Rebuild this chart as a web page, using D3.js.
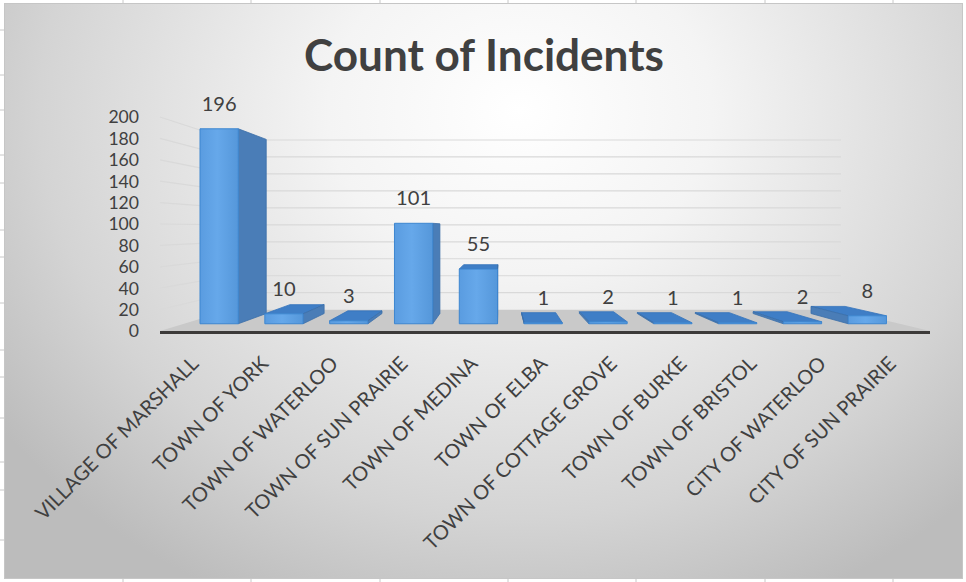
<!DOCTYPE html>
<html><head><meta charset="utf-8">
<script src="https://cdn.jsdelivr.net/npm/d3@7"></script>
<style>html,body{margin:0;padding:0;background:#fff;overflow:hidden}</style>
</head><body>
<svg id="c" width="966" height="582"></svg>
<script>
// ---- data ----
const categories = ["VILLAGE OF MARSHALL","TOWN OF YORK","TOWN OF WATERLOO","TOWN OF SUN PRAIRIE","TOWN OF MEDINA","TOWN OF ELBA","TOWN OF COTTAGE GROVE","TOWN OF BURKE","TOWN OF BRISTOL","CITY OF WATERLOO","CITY OF SUN PRAIRIE"];
const counts = [196,10,3,101,55,1,2,1,1,2,8];
const yTicks = [0,20,40,60,80,100,120,140,160,180,200];
const chartTitle = "Count of Incidents";

// ---- setup ----
const W = 966, H = 582;
const FONT = "Lato, 'Open Sans', sans-serif";
const TXT = "#404040";
const svg = d3.select("#c");
const defs = svg.append("defs");

// perspective: vanishing point and back-plane scale
const VX = 500, VY = 228, KB = 0.793;
const D0 = 0.34, D1 = 0.82;           // bar depth range
const FL = 160, FR = 930;             // floor front edge extent

const x = d3.scaleBand().domain(categories).range([163, 930]).paddingInner(0.41).paddingOuter(0.205);
const y = d3.scaleLinear().domain([0, 200]).range([331, 117]);
function P(xf, v, d) { const k = 1 - (1 - KB) * d; return [VX + k * (xf - VX), VY + k * (y(v) - VY)]; }
const pts = a => a.map(p => p[0].toFixed(2) + "," + p[1].toFixed(2)).join(" ");

function fit(text, weight, target) {
  const t = svg.append("text").attr("font-family", FONT).attr("font-weight", weight).attr("font-size", 100).text(text);
  const w = t.node().getComputedTextLength(); t.remove();
  return 100 * target / w;
}

// ---- background ----
const rg = defs.append("radialGradient").attr("id", "bg").attr("gradientUnits", "userSpaceOnUse")
  .attr("cx", 520).attr("cy", 110).attr("r", 640)
  .attr("gradientTransform", "translate(520,110) scale(1,0.85) translate(-520,-110)");
rg.append("stop").attr("offset", 0).attr("stop-color", "#ffffff");
rg.append("stop").attr("offset", 0.3).attr("stop-color", "#f4f4f4");
rg.append("stop").attr("offset", 0.75).attr("stop-color", "#d4d4d4");
rg.append("stop").attr("offset", 1).attr("stop-color", "#bcbcbc");

svg.append("rect").attr("x", 0).attr("y", 0).attr("width", W).attr("height", H).attr("fill", "#ffffff");
svg.append("rect").attr("x", 4.5).attr("y", 3.5).attr("width", 958).attr("height", 575)
  .attr("fill", "url(#bg)").attr("stroke", "#c6c6c6").attr("stroke-width", 1);

// spreadsheet cell marks around the frame
[30,75,110,155,183,230,257,303,350,377,418,462,490,540].forEach(v =>
  svg.append("line").attr("x1", 0).attr("x2", 4).attr("y1", v).attr("y2", v).attr("stroke", "#c8c8c8"));
[123,251,380,508,636,765,893].forEach(v => {
  svg.append("line").attr("x1", v).attr("x2", v).attr("y1", 0).attr("y2", 3).attr("stroke", "#c8c8c8");
  svg.append("line").attr("x1", v).attr("x2", v).attr("y1", 579).attr("y2", 582).attr("stroke", "#c8c8c8");
});

// ---- title ----
const tSize = fit(chartTitle, 700, 360);
svg.append("text").attr("x", 484).attr("y", 71).attr("text-anchor", "middle")
  .attr("font-family", FONT).attr("font-weight", 700).attr("font-size", tSize).attr("fill", TXT).text(chartTitle);

// ---- floor ----
svg.append("polygon").attr("points", pts([P(FL,0,0), P(FR,0,0), P(FR,0,1), P(FL,0,1)]))
  .attr("fill", "#c9c9c9");

// ---- gridlines: side wall and back wall ----
const grid = svg.append("g").attr("stroke", "#d9d9d9").attr("stroke-width", 1.2);
yTicks.filter(v => v > 0).forEach(v => {
  const a = P(FL, v, 0), b = P(FL, v, 1), c = P(FR, v, 1);
  grid.append("line").attr("x1", a[0]).attr("y1", a[1]).attr("x2", b[0]).attr("y2", b[1]);
  grid.append("line").attr("x1", b[0]).attr("y1", b[1]).attr("x2", c[0]).attr("y2", c[1]);
});

// ---- y-axis labels ----
const lSize = fit("200", 400, 35);
const tickSize = Math.min(lSize, 17.6);
svg.append("g").selectAll("text").data(yTicks).join("text")
  .attr("x", 139).attr("y", d => y(d)).attr("dy", "0.36em").attr("text-anchor", "end")
  .attr("font-family", FONT).attr("font-size", tickSize).attr("fill", TXT).text(d => d);

// ---- bars ----
const fg = defs.append("linearGradient").attr("id", "front").attr("x1", 0).attr("x2", 1).attr("y1", 0).attr("y2", 0);
fg.append("stop").attr("offset", 0).attr("stop-color", "#5a9ce0");
fg.append("stop").attr("offset", 0.45).attr("stop-color", "#66a8ea");
fg.append("stop").attr("offset", 1).attr("stop-color", "#5597da");

const bars = svg.append("g");
categories.forEach((c, i) => {
  const v = counts[i];
  const x0 = x(c), x1 = x0 + x.bandwidth();
  const g = bars.append("g").attr("stroke-linejoin", "round");
  // top face
  if (y(v) > VY) {
    g.append("polygon").attr("points", pts([P(x0,v,D0), P(x1,v,D0), P(x1,v,D1), P(x0,v,D1)]))
      .attr("fill", "#3f7ec6").attr("stroke", "#3574bb").attr("stroke-width", 0.8);
  }
  // side face
  if (x1 < VX) {
    g.append("polygon").attr("points", pts([P(x1,v,D0), P(x1,v,D1), P(x1,0,D1), P(x1,0,D0)]))
      .attr("fill", "#4a7db7").attr("stroke", "#3b6ea8").attr("stroke-width", 0.8);
  } else if (x0 > VX) {
    g.append("polygon").attr("points", pts([P(x0,v,D0), P(x0,v,D1), P(x0,0,D1), P(x0,0,D0)]))
      .attr("fill", "#4a7db7").attr("stroke", "#3b6ea8").attr("stroke-width", 0.8);
  }
  // front face
  g.append("polygon").attr("points", pts([P(x0,v,D0), P(x1,v,D0), P(x1,0,D0), P(x0,0,D0)]))
    .attr("fill", "url(#front)").attr("stroke", "#3d86d0").attr("stroke-width", 1);
  // data label
  const fa = P(x0, v, D0), fb = P(x1, v, D0);
  svg.append("text").attr("x", (fa[0] + fb[0]) / 2).attr("y", fa[1] - 18).attr("text-anchor", "middle")
    .attr("font-family", FONT).attr("font-size", lSize).attr("fill", TXT).text(v);
});

// floor front edge
const fe0 = P(FL, 0, 0), fe1 = P(FR, 0, 0);
svg.append("rect").attr("x", fe0[0]).attr("y", fe0[1]).attr("width", fe1[0] - fe0[0]).attr("height", 3)
  .attr("fill", "#3c3a39");

// ---- category labels ----
const cSize = fit(categories[0], 400, 221);
svg.append("g").selectAll("text").data(categories).join("text")
  .attr("transform", d => `translate(${x(d) + x.bandwidth() / 2 + 2},365) rotate(-45)`)
  .attr("text-anchor", "end").attr("font-family", FONT).attr("font-size", cSize).attr("fill", TXT)
  .text(d => d);
</script>
</body></html>
